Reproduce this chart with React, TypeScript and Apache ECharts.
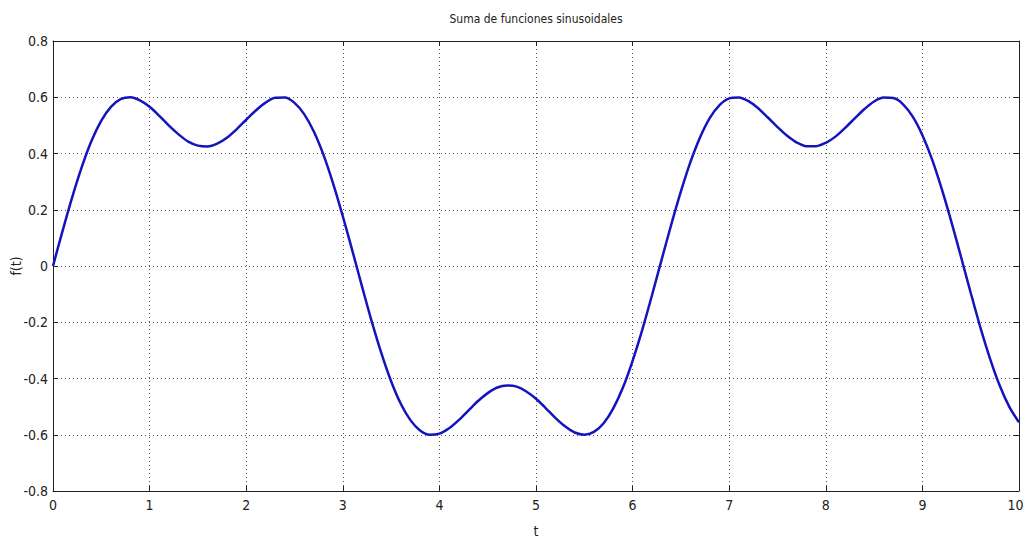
import React, { useEffect, useRef } from "react";
import * as echarts from "echarts";

const T_VALUES: number[] = [
  0, 0.1, 0.2, 0.3, 0.4, 0.5, 0.6, 0.7, 0.8, 0.9,
  1.0, 1.1, 1.2, 1.3, 1.4, 1.5, 1.6, 1.7, 1.8, 1.9,
  2.0, 2.1, 2.2, 2.3, 2.4, 2.5, 2.6, 2.7, 2.8, 2.9,
  3.0, 3.1, 3.2, 3.3, 3.4, 3.5, 3.6, 3.7, 3.8, 3.9,
  4.0, 4.1, 4.2, 4.3, 4.4, 4.5, 4.6, 4.7, 4.8, 4.9,
  5.0, 5.1, 5.2, 5.3, 5.4, 5.5, 5.6, 5.7, 5.8, 5.9,
  6.0, 6.1, 6.2, 6.3, 6.4, 6.5, 6.6, 6.7, 6.8, 6.9,
  7.0, 7.1, 7.2, 7.3, 7.4, 7.5, 7.6, 7.7, 7.8, 7.9,
  8.0, 8.1, 8.2, 8.3, 8.4, 8.5, 8.6, 8.7, 8.8, 8.9,
  9.0, 9.1, 9.2, 9.3, 9.4, 9.5, 9.6, 9.7, 9.8, 9.9,
  10.0,
];

const F_VALUES: number[] = [
  0.0, 0.126, 0.246, 0.354, 0.446, 0.517, 0.566, 0.593, 0.600, 0.589,
  0.566, 0.534, 0.499, 0.468, 0.442, 0.428, 0.425, 0.435, 0.456, 0.486,
  0.520, 0.553, 0.581, 0.598, 0.599, 0.580, 0.540, 0.478, 0.395, 0.293,
  0.177, 0.053, -0.074, -0.198, -0.311, -0.410, -0.490, -0.548, -0.585, -0.600,
  -0.596, -0.577, -0.548, -0.514, -0.480, -0.452, -0.432, -0.425, -0.429, -0.446,
  -0.472, -0.505, -0.540, -0.570, -0.592, -0.600, -0.590, -0.559, -0.506, -0.432,
  -0.337, -0.227, -0.105, 0.022, 0.147, 0.265, 0.371, 0.459, 0.527, 0.572,
  0.596, 0.599, 0.586, 0.561, 0.528, 0.494, 0.463, 0.439, 0.426, 0.426,
  0.438, 0.460, 0.491, 0.525, 0.558, 0.585, 0.599, 0.597, 0.575, 0.531,
  0.465, 0.379, 0.274, 0.157, 0.032, -0.095, -0.218, -0.329, -0.425, -0.501,
  -0.556,
];

const TITLE = "Suma de funciones sinusoidales";
const X_NAME = "t";
const Y_NAME = "f(t)";

const FONT = "'Liberation Sans Narrow', 'DejaVu Sans Condensed', 'Arial Narrow', sans-serif";

export default function App() {
  const ref = useRef<HTMLDivElement>(null);

  useEffect(() => {
    document.body.style.margin = "0";
    if (!ref.current) return;
    const chart = echarts.init(ref.current, undefined, { renderer: "svg" });

    const points = T_VALUES.map((t, i) => [t, F_VALUES[i]]);
    const axisLine = { show: true, onZero: false, lineStyle: { color: "#222", width: 1 } };
    const tick = { show: true, inside: true, length: 5, lineStyle: { color: "#222" } };
    const grid = { show: true, lineStyle: { color: "#555", type: [1, 3] as number[], width: 1 } };
    const label = { color: "#222", fontFamily: FONT, fontSize: 14 };

    chart.setOption({
      animation: false,
      backgroundColor: "#fff",
      graphic: [
        {
          type: "text",
          x: 536,
          y: 19,
          style: {
            text: TITLE,
            fill: "#222",
            font: `12px ${FONT}`,
            textAlign: "center",
            textVerticalAlign: "middle",
          },
        },
      ],
      grid: {
        left: 53,
        right: 6,
        top: 41,
        bottom: 48,
        containLabel: false,
        outerBoundsMode: "none",
      },
      xAxis: [
        {
          type: "value",
          min: 0,
          max: 10,
          interval: 1,
          position: "bottom",
          name: X_NAME,
          nameLocation: "middle",
          nameGap: 33,
          nameTextStyle: { color: "#222", fontFamily: FONT, fontSize: 14 },
          axisLine,
          axisTick: tick,
          axisLabel: {
            ...label,
            margin: 7,
            // keep the last label inside the right edge
            formatter: (v: number) => (v === 10 ? "{end|10}" : String(v)),
            rich: { end: { ...label, padding: [0, 7, 0, 0] } },
          },
          splitLine: grid,
        },
        {
          type: "value",
          min: 0,
          max: 10,
          interval: 1,
          position: "top",
          axisLine,
          axisTick: tick,
          axisLabel: { show: false },
          splitLine: { show: false },
        },
      ],
      yAxis: [
        {
          type: "value",
          min: -0.8,
          max: 0.8,
          interval: 0.2,
          position: "left",
          name: Y_NAME,
          nameLocation: "middle",
          nameGap: 30,
          nameMoveOverlap: false,
          nameTextStyle: { color: "#222", fontFamily: FONT, fontSize: 14 },
          axisLine,
          axisTick: tick,
          axisLabel: {
            ...label,
            margin: 5,
            formatter: (v: number) => {
              const r = Math.round(v * 10) / 10;
              return r === 0 ? "0" : r.toFixed(1);
            },
          },
          splitLine: grid,
        },
        {
          type: "value",
          min: -0.8,
          max: 0.8,
          interval: 0.2,
          position: "right",
          axisLine,
          axisTick: tick,
          axisLabel: { show: false },
          splitLine: { show: false },
        },
      ],
      series: [
        {
          type: "line",
          data: points,
          xAxisIndex: 0,
          yAxisIndex: 0,
          smooth: 0.3,
          showSymbol: false,
          lineStyle: { color: "#1414bf", width: 2.5 },
        },
      ],
    });

    return () => chart.dispose();
  }, []);

  return <div ref={ref} style={{ width: 1025, height: 539 }} />;
}
